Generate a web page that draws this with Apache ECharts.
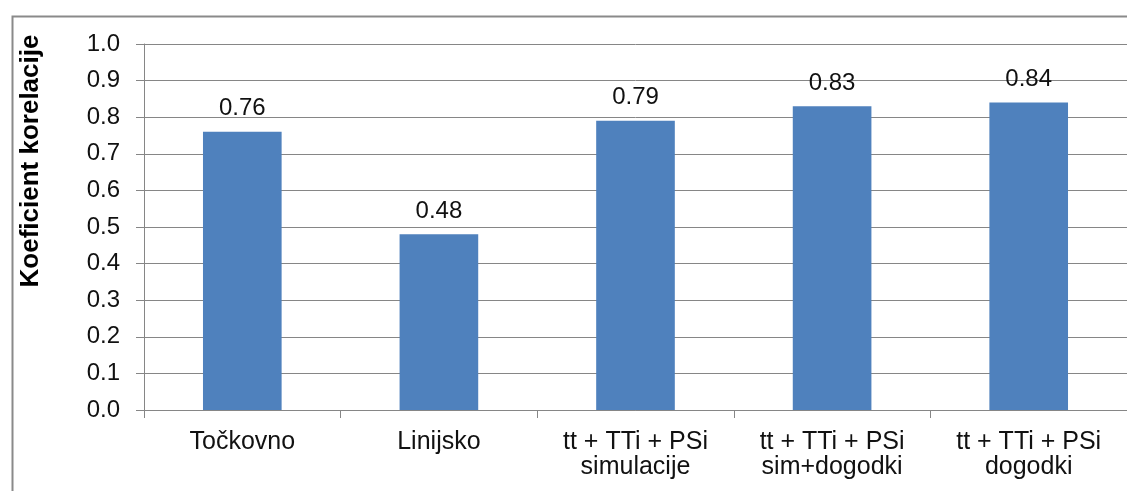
<!DOCTYPE html>
<html>
<head>
<meta charset="utf-8">
<script src="https://cdn.jsdelivr.net/npm/echarts@6/dist/echarts.min.js"></script>
<style>
html,body{margin:0;padding:0;background:#fff;}
#c{width:1127px;height:491px;}
</style>
</head>
<body>
<div id="c"></div>
<script>
const categories = ['Točkovno', 'Linijsko', 'tt + TTi + PSi\nsimulacije', 'tt + TTi + PSi\nsim+dogodki', 'tt + TTi + PSi\ndogodki'];
const values = [0.76, 0.48, 0.79, 0.83, 0.84];
const yTicks = { min: 0, max: 1, interval: 0.1 };
const yTitle = 'Koeficient korelacije';

const FONT = 'Liberation Sans, Arial, sans-serif';
const chart = echarts.init(document.getElementById('c'), null, { renderer: 'canvas' });
chart.setOption({
  animation: false,
  backgroundColor: '#fff',
  grid: { left: 144, top: 44, bottom: 81, width: 985, containLabel: false },
  xAxis: {
    type: 'category',
    data: categories,
    axisLine: { show: true, lineStyle: { color: '#868686', width: 1 } },
    axisTick: { show: true, length: 8, alignWithLabel: false, lineStyle: { color: '#868686' } },
    axisLabel: { color: '#111', fontSize: 25, fontFamily: FONT, lineHeight: 25, margin: 20, interval: 0 }
  },
  yAxis: {
    type: 'value',
    min: yTicks.min, max: yTicks.max, interval: yTicks.interval,
    axisLine: { show: true, lineStyle: { color: '#868686', width: 1 } },
    axisTick: { show: true, length: 8, inside: false, lineStyle: { color: '#868686' } },
    axisLabel: { color: '#111', fontSize: 24, fontFamily: FONT, margin: 24, formatter: v => v.toFixed(1) },
    splitLine: { show: true, lineStyle: { color: '#868686', width: 1 } }
  },
  series: [{
    type: 'bar',
    data: values,
    barWidth: '40%',
    itemStyle: { color: '#4F81BD' },
    label: { show: true, position: 'top', distance: 11, color: '#111', fontSize: 24, fontFamily: FONT, formatter: p => p.value.toFixed(2) }
  }],
  graphic: [
    { type: 'rect', left: 10, top: 14, silent: true, shape: { x: 0, y: 0, width: 1300, height: 700 }, style: { fill: 'none', stroke: '#8a8a8a', lineWidth: 2 } },
    { type: 'text', x: 31, y: 161, rotation: Math.PI / 2, silent: true,
      style: { text: yTitle, x: 0, y: 0, textAlign: 'center', textVerticalAlign: 'middle', align: 'center', verticalAlign: 'middle', font: 'bold 26px ' + FONT, fill: '#000' } }
  ]
});
</script>
</body>
</html>
